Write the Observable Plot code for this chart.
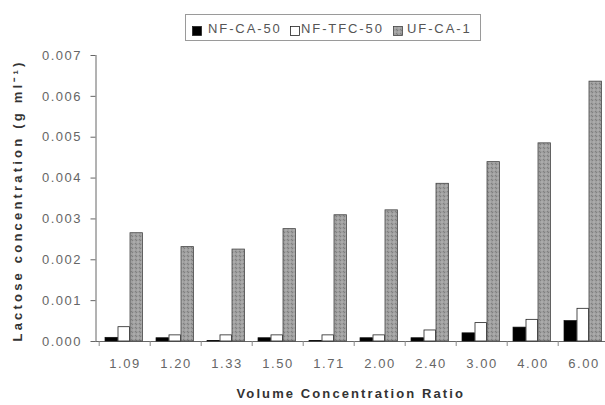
<!DOCTYPE html>
<html><head><meta charset="utf-8">
<script src="https://cdn.jsdelivr.net/npm/d3@7"></script>
<script src="https://cdn.jsdelivr.net/npm/@observablehq/plot@0.6"></script>
<style>
body{margin:0;background:#fff;font-family:"Liberation Sans",Arial,sans-serif;}
#wrap{position:relative;width:605px;height:405px;overflow:hidden;}
#legend{position:relative;height:44px;}
.box{position:absolute;left:185px;top:14px;width:296px;height:27px;border:1px solid #9a9a9a;box-sizing:border-box;}
.sw{position:absolute;top:11px;}
.lt{position:absolute;top:4px;height:20px;line-height:20px;font-size:13px;letter-spacing:1.9px;color:#555;white-space:nowrap;}
</style></head><body>
<div id="wrap"><div id="legend"><div class="box" id="lbox"></div></div><div id="chart"></div></div>
<script>
// ---- data ----
const categories = ["1.09","1.20","1.33","1.50","1.71","2.00","2.40","3.00","4.00","6.00"];
const seriesNames = ["NF-CA-50","NF-TFC-50","UF-CA-1"];
const nfCA50  = [0.00009,0.00008,0.00001,0.00008,0.00001,0.00008,0.00008,0.00020,0.00034,0.00050];
const nfTFC50 = [0.00035,0.00015,0.00015,0.00015,0.00015,0.00015,0.00027,0.00045,0.00053,0.00080];
const ufCA1   = [0.00265,0.00231,0.00225,0.00275,0.00309,0.00321,0.00386,0.00439,0.00485,0.00636];
const yTicks  = [0,0.001,0.002,0.003,0.004,0.005,0.006,0.007];
const xTitle = "Volume Concentration Ratio";
const yTitle = "Lactose concentration (g ml\u207B\u00B9)";

const idx = categories.map((_, i) => i);
const bw = (611.5 - 95.5) / categories.length;
const font = '"Liberation Sans", Arial, sans-serif';

const chart = Plot.plot({
  width: 605,
  height: 361,
  marginTop: 11,
  marginBottom: 64,
  marginLeft: 95.5,
  marginRight: 0,
  style: {fontFamily: font, fontSize: "13px", color: "#666", background: "#fff", overflow: "visible"},
  x: {domain: categories, range: [95.5, 611.5], padding: 0, tickSize: 0, tickPadding: 17, label: null, line: true},
  y: {domain: [0, 0.007], ticks: yTicks, tickFormat: d3.format(".3f"), tickSize: 5, tickPadding: 9, label: null, line: true},
  marks: [
    Plot.barY(idx, {x: i => categories[i], y: i => nfCA50[i], fill: "#000", stroke: "#111", strokeWidth: 0.7, insetLeft: 6, insetRight: bw - 19}),
    Plot.barY(idx, {x: i => categories[i], y: i => nfTFC50[i], fill: "#fff", stroke: "#222", strokeWidth: 0.8, insetLeft: 19, insetRight: bw - 31}),
    Plot.barY(idx, {x: i => categories[i], y: i => ufCA1[i], fill: "url(#xhatch)", stroke: "#444", strokeWidth: 0.8, insetLeft: 31, insetRight: bw - 44}),
    Plot.ruleX(categories, {x: d => d, dx: -bw / 2, y1: 0, y2: 0, insetTop: 0, insetBottom: -5, stroke: "#888"}),
    Plot.text([yTitle], {frameAnchor: "left", dx: -78, dy: 2, rotate: -90, textAnchor: "middle", lineAnchor: "middle", fontWeight: "bold", fontSize: 13, fill: "#333"}),
    Plot.text([xTitle], {frameAnchor: "bottom", dy: 52, textAnchor: "middle", lineAnchor: "middle", fontWeight: "bold", fontSize: 13, fill: "#333"})
  ]
});

// pattern for UF-CA-1 bars
const svg = d3.select(chart);
const defs = svg.insert("defs", ":first-child");
const pat = defs.append("pattern").attr("id", "xhatch").attr("patternUnits", "userSpaceOnUse").attr("width", 4).attr("height", 4);
pat.append("rect").attr("width", 4).attr("height", 4).attr("fill", "#989898");
pat.append("circle").attr("cx", 2).attr("cy", 2).attr("r", 1.1).attr("fill", "none").attr("stroke", "#c0c0c0").attr("stroke-width", 0.6);
pat.append("path").attr("d", "M0,0h0.8v0.8h-0.8zM4,4h-0.8v-0.8h0.8z").attr("fill", "#707070");

svg.selectAll("text").each(function() {
  const t = this.textContent;
  if (t === yTitle) this.style.letterSpacing = "3.2px";
  else if (t === xTitle) this.style.letterSpacing = "2.1px";
  else this.style.letterSpacing = "1.5px";
});
svg.selectAll('[aria-label="x-axis"] path, [aria-label="y-axis"] path, [aria-label="x-axis line"] line, [aria-label="y-axis line"] line').attr("stroke", "#888");

document.getElementById("chart").appendChild(chart);

// legend
const box = document.getElementById("lbox");
const fills = ["#000", "#fff", "url(#xhatch)"];
const swLeft = [6, 104, 207];
const txLeft = [22, 115, 221];
seriesNames.forEach((name, k) => {
  const sw = d3.create("svg").attr("class", "sw").attr("width", 10).attr("height", 10).style("left", swLeft[k] + "px");
  sw.append("rect").attr("x", 0.5).attr("y", 0.5).attr("width", 9).attr("height", 9)
    .attr("fill", fills[k]).attr("stroke", k === 2 ? "#444" : "#222").attr("stroke-width", 0.8);
  box.appendChild(sw.node());
  const tx = document.createElement("div");
  tx.className = "lt";
  tx.style.left = txLeft[k] + "px";
  tx.textContent = name;
  box.appendChild(tx);
});
</script>
</body></html>
